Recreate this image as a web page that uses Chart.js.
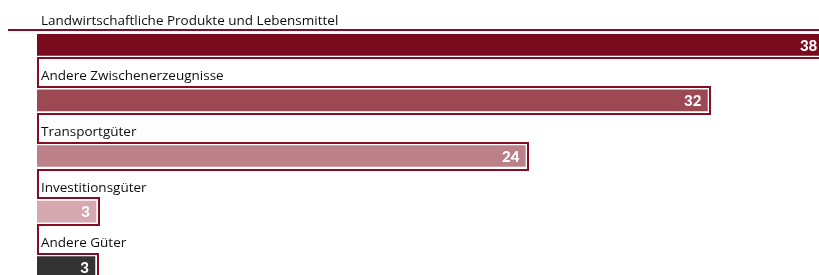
<!DOCTYPE html>
<html>
<head>
<meta charset="utf-8">
<script src="https://cdn.jsdelivr.net/npm/chart.js@4.4.1/dist/chart.umd.min.js"></script>
<style>
  html, body { margin: 0; padding: 0; background: #ffffff; overflow: hidden; width: 819px; height: 275px; }
  #wrap { position: absolute; left: 0; top: 0; width: 850px; height: 300px; }
</style>
</head>
<body>
<div id="wrap"><canvas id="c" width="850" height="300"></canvas></div>
<script>
const categories = [
  "Landwirtschaftliche Produkte und Lebensmittel",
  "Andere Zwischenerzeugnisse",
  "Transportgüter",
  "Investitionsgüter",
  "Andere Güter"
];
const values = [38, 32.4, 23.6, 2.85, 2.8];
const barColors = ["#7a0a1e", "#9d4954", "#bc8088", "#d6a9b0", "#333333"];
const frameColor = "#820f24";

const framePlugin = {
  id: "frames",
  afterDatasetsDraw(chart) {
    const ctx = chart.ctx;
    const meta = chart.getDatasetMeta(0);
    ctx.save();
    // frames
    ctx.strokeStyle = frameColor;
    ctx.lineWidth = 2;
    ctx.lineJoin = "miter";
    ctx.beginPath();
    meta.data.forEach((el, i) => {
      const p = el.getProps(["x", "y", "base", "height"], true);
      const top = Math.round(p.y - p.height / 2) - 3;
      const bottom = Math.round(p.y + p.height / 2) + 3;
      const right = Math.round(p.x) + 3;
      const left = Math.round(p.base);
      if (i === 0) {
        ctx.moveTo(8, top - 1);
        ctx.lineTo(right, top - 1);
      } else {
        ctx.lineTo(left + 1, top);
        ctx.lineTo(right, top);
      }
      ctx.lineTo(right, bottom);
      ctx.lineTo(left + 1, bottom);
    });
    ctx.stroke();
    // category labels and values
    meta.data.forEach((el, i) => {
      const p = el.getProps(["x", "y", "base", "height"], true);
      const top = p.y - p.height / 2;
      ctx.fillStyle = "#0d0d0d";
      ctx.font = '13.5px "Open Sans"';
      ctx.textAlign = "left";
      ctx.textBaseline = "alphabetic";
      ctx.fillText(categories[i], 41, top - 9.5);
      ctx.fillStyle = "#ffffff";
      ctx.font = '900 15px Lato';
      ctx.textAlign = "right";
      ctx.textBaseline = "middle";
      ctx.fillText(String(Math.round(values[i])), p.x - 6, p.y + 1);
    });
    ctx.restore();
  }
};

new Chart(document.getElementById("c"), {
  type: "bar",
  data: {
    labels: categories,
    datasets: [{
      data: values,
      backgroundColor: barColors,
      borderWidth: 0,
      barThickness: 21
    }]
  },
  options: {
    indexAxis: "y",
    responsive: false,
    animation: false,
    devicePixelRatio: 1,
    layout: { padding: { left: 37, right: 6, top: 17, bottom: 5 } },
    scales: {
      x: { display: false, min: 0, max: 39 },
      y: { display: false }
    },
    plugins: {
      legend: { display: false },
      tooltip: { enabled: false }
    }
  },
  plugins: [framePlugin]
});
</script>
</body>
</html>
